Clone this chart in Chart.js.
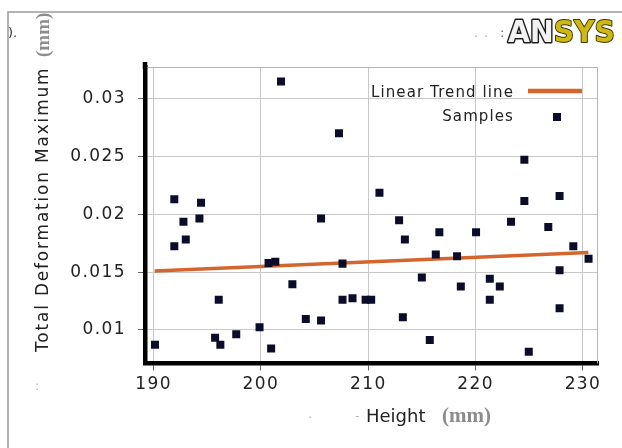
<!DOCTYPE html>
<html><head><meta charset="utf-8">
<script src="https://cdn.jsdelivr.net/npm/chart.js@4/dist/chart.umd.min.js"></script>
<style>html,body{margin:0;padding:0;background:#fff;}#wrap{position:relative;width:622px;height:448px;}canvas{display:block;}</style>
</head><body><div id="wrap"><canvas id="c" width="622" height="448"></canvas></div>
<script>
// ---- data ----
const heightMM = [190.13,191.93,191.93,192.78,193.0,194.27,194.42,195.73,196.07,196.22,197.70,199.87,200.71,200.95,201.34,201.87,202.93,204.18,205.6,205.6,207.27,207.6,207.6,208.53,209.75,210.27,211.04,212.87,213.22,213.41,214.99,215.73,216.29,216.62,218.27,218.62,220.04,221.32,221.32,222.25,223.3,224.54,224.54,224.95,226.77,227.82,227.82,227.82,229.1,230.52];
const totalDeformation = [0.00872,0.01724,0.0213,0.01936,0.01783,0.01965,0.02101,0.00933,0.01261,0.00872,0.00962,0.01023,0.01579,0.0084,0.01591,0.0315,0.01396,0.01096,0.01965,0.01081,0.02701,0.01574,0.01261,0.01275,0.01261,0.01261,0.02188,0.0195,0.0111,0.01783,0.01455,0.00913,0.01652,0.01846,0.01637,0.01376,0.01846,0.01443,0.01261,0.01376,0.01936,0.02472,0.02116,0.00811,0.0189,0.02159,0.01516,0.01188,0.01724,0.01617];
const trendX = [190.1, 230.5];
const trendY = [0.0151, 0.0167];
const xTicks = [190, 200, 210, 220, 230];
const xTickLabels = ['190', '200', '210', '220', '230'];
const yTicks = [0.01, 0.015, 0.02, 0.025, 0.03];
const yTickLabels = ['0.01', '0.015', '0.02', '0.025', '0.03'];
const seriesNames = ['Linear Trend line', 'Samples'];
const xTitle = ['Height', '(mm)'];
const yTitle = ['Total Deformation Maximum', '(mm)'];
const logoText = ['AN', 'SYS'];

const decor = {
  id: 'decor',
  beforeDraw(chart) {
    const ctx = chart.ctx;
    ctx.save();
    ctx.strokeStyle = '#9a9a9a'; ctx.lineWidth = 1.5;
    ctx.beginPath(); ctx.moveTo(8, 448); ctx.lineTo(8, 12); ctx.lineTo(622, 12); ctx.stroke();
    ctx.restore();
    ctx.letterSpacing = '1.4px';
  },
  afterDraw(chart) {
    const ctx = chart.ctx;
    const a = chart.chartArea;
    ctx.letterSpacing = '0px';
    ctx.save();
    // plot frame top/right
    ctx.strokeStyle = '#b4b4b4'; ctx.lineWidth = 1;
    ctx.beginPath(); ctx.moveTo(a.left, a.top + 0.5); ctx.lineTo(a.right - 0.5, a.top + 0.5); ctx.lineTo(a.right - 0.5, a.bottom); ctx.stroke();
    // extend black axis above plot
    ctx.strokeStyle = '#000'; ctx.lineWidth = 4.5;
    ctx.beginPath(); ctx.moveTo(a.left, a.top - 5); ctx.lineTo(a.left, a.top + 2); ctx.stroke();

    // legend
    const ds = chart.data.datasets;
    ctx.font = '15px "DejaVu Sans"';
    ctx.letterSpacing = '1.1px';
    ctx.fillStyle = '#222'; ctx.textAlign = 'right'; ctx.textBaseline = 'alphabetic';
    ctx.fillText(ds[0].label, a.right - 84, a.top + 29.5);
    ctx.fillText(ds[1].label, a.right - 84, a.top + 53.5);
    ctx.letterSpacing = '0px';
    ctx.strokeStyle = ds[0].borderColor; ctx.lineWidth = 4.5; ctx.lineCap = 'butt';
    ctx.beginPath(); ctx.moveTo(a.right - 70, a.top + 24); ctx.lineTo(a.right - 16, a.top + 24); ctx.stroke();
    ctx.fillStyle = ds[1].backgroundColor;
    ctx.fillRect(a.right - 45, a.top + 46, 8, 8);

    // y title
    ctx.save();
    ctx.translate(48, 352); ctx.rotate(-Math.PI / 2);
    ctx.font = '17px "DejaVu Sans"'; ctx.letterSpacing = '1.8px';
    ctx.fillStyle = '#222'; ctx.textAlign = 'left'; ctx.textBaseline = 'alphabetic';
    ctx.fillText(yTitle[0], 0, 0);
    ctx.letterSpacing = '0px';
    ctx.font = 'bold 19px "Liberation Serif"'; ctx.fillStyle = '#8c8c8c';
    ctx.fillText(yTitle[1], 295, 1);
    ctx.restore();

    // x title
    ctx.font = '18px "DejaVu Sans"'; ctx.fillStyle = '#222'; ctx.textAlign = 'left';
    ctx.fillText(xTitle[0], 366, 421.5);
    ctx.font = 'bold 21px "Liberation Serif"'; ctx.fillStyle = '#8c8c8c';
    ctx.fillText(xTitle[1], 442, 421.5);

    // ANSYS logo
    ctx.save();
    ctx.font = 'bold 30px "DejaVu Sans"';
    const W = ctx.measureText(logoText[0] + logoText[1]).width;
    ctx.translate(508, 42); ctx.scale(107 / W, 1);
    ctx.lineJoin = 'round';
    ctx.lineWidth = 3; ctx.strokeStyle = '#1c1c1c'; ctx.strokeText(logoText[0], 0, 0);
    ctx.fillStyle = '#f2f2f2'; ctx.fillText(logoText[0], 0, 0);
    const wAN = ctx.measureText(logoText[0]).width;
    ctx.lineWidth = 2; ctx.strokeStyle = '#3d3800'; ctx.strokeText(logoText[1], wAN, 0);
    ctx.fillStyle = '#cdb814'; ctx.fillText(logoText[1], wAN, 0);
    ctx.restore();

    // small stray marks
    ctx.fillStyle = '#666'; ctx.font = '13px "DejaVu Sans"';
    ctx.fillText(':', 500, 37);
    ctx.fillStyle = '#aaa';
    ctx.fillText('.', 474, 37); ctx.fillText('.', 484, 37);
    ctx.fillStyle = '#333'; ctx.font = '13px "DejaVu Sans"';
    ctx.fillText(').', 8, 37);
    ctx.fillStyle = '#bbb';
    ctx.fillText(':', 35, 390); ctx.fillText('.', 308, 418); ctx.fillText('-', 355, 420);
    ctx.restore();
  }
};

const tickFont = { family: 'DejaVu Sans', size: 17 };
new Chart(document.getElementById('c'), {
  type: 'scatter',
  data: {
    datasets: [
      { label: seriesNames[0], type: 'line', data: trendX.map((x, i) => ({ x, y: trendY[i] })),
        borderColor: '#d4652c', borderWidth: 3.5, pointRadius: 0, fill: false, order: 2 },
      { label: seriesNames[1], data: heightMM.map((x, i) => ({ x, y: totalDeformation[i] })),
        pointStyle: 'rect', pointRadius: 5.66, backgroundColor: '#0b0b2a', borderWidth: 0, order: 1 }
    ]
  },
  options: {
    responsive: false, animation: false, events: [],
    layout: { padding: { left: 0, right: 24, top: 67, bottom: 0 } },
    plugins: { legend: { display: false }, tooltip: { enabled: false }, title: { display: false } },
    scales: {
      x: {
        type: 'linear', min: 189.2, max: 231.4,
        afterBuildTicks: s => { s.ticks = xTicks.map(v => ({ value: v })); },
        afterFit: s => { s.height = 84.5; },
        ticks: { callback: (v, i) => xTickLabels[i], font: tickFont, color: '#222', padding: 4, maxRotation: 0, autoSkip: false },
        grid: { color: '#c8c8c8', lineWidth: 1, tickLength: 7, tickColor: '#666' },
        border: { display: true, color: '#000', width: 4.5 }
      },
      y: {
        type: 'linear', min: 0.0071, max: 0.03275,
        afterBuildTicks: s => { s.ticks = yTicks.map(v => ({ value: v })); },
        afterFit: s => { s.width = 145; },
        ticks: { callback: (v, i) => yTickLabels[i], font: tickFont, color: '#222', padding: 12, autoSkip: false },
        grid: { color: '#c8c8c8', lineWidth: 1, tickLength: 7, tickColor: '#666' },
        border: { display: true, color: '#000', width: 4.5 }
      }
    }
  },
  plugins: [decor]
});
</script>
</body></html>
